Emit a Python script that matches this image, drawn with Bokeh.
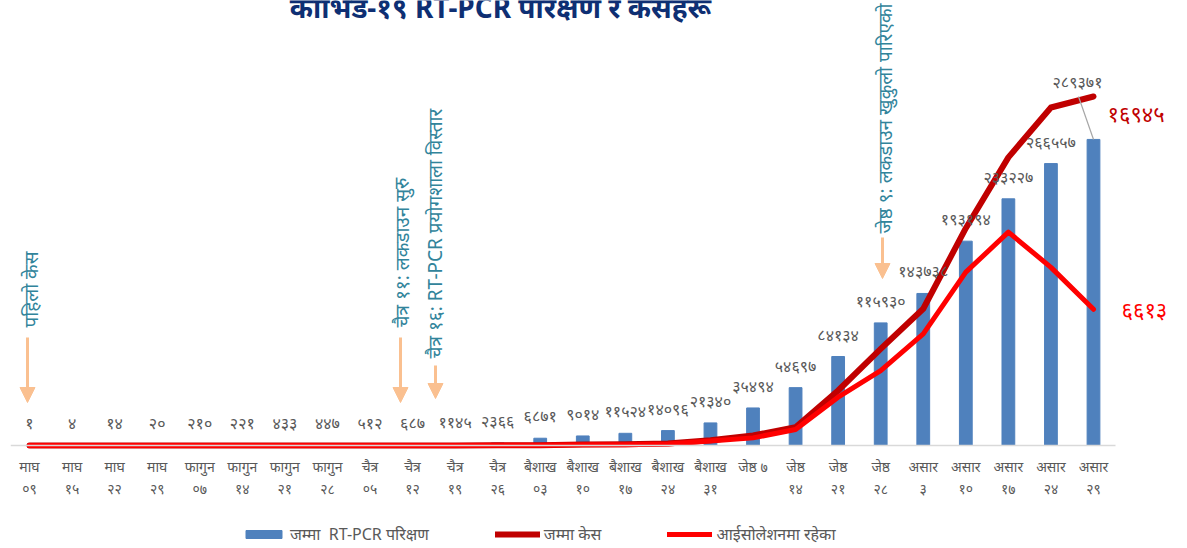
import math
from bokeh.plotting import figure
from bokeh.models import (Range1d, FixedTicker, Legend, LegendItem, Arrow, NormalHead)
from bokeh.core.properties import value
from bokeh.embed import file_html
from bokeh.resources import INLINE

# ---------------- data ----------------
months = ["माघ", "माघ", "माघ", "माघ", "फागुन", "फागुन", "फागुन", "फागुन",
          "चैत्र", "चैत्र", "चैत्र", "चैत्र", "बैशाख", "बैशाख", "बैशाख", "बैशाख",
          "बैशाख", "जेष्ठ ७", "जेष्ठ", "जेष्ठ", "जेष्ठ", "असार", "असार", "असार",
          "असार", "असार"]
days = ["०९", "१५", "२२", "२९", "०७", "१४", "२१", "२८", "०५", "१२", "१९", "२६",
        "०३", "१०", "१७", "२४", "३१", "", "१४", "२१", "२८", "३", "१०", "१७",
        "२४", "२९"]
tests = [1, 4, 14, 20, 210, 221, 433, 447, 512, 687, 1145, 2366, 6871, 9014,
         11524, 14096, 21340, 35494, 54697, 84134, 115930, 143738, 193194,
         233227, 266557, 289371]
cases = [1, 1, 1, 1, 1, 1, 1, 1, 1, 3, 5, 9, 16, 45, 57, 99, 260, 487, 886,
         2670, 4690, 6640, 10550, 13990, 16410, 16945]
isolation = [1, 1, 0, 0, 0, 0, 0, 0, 0, 2, 4, 8, 15, 41, 41, 70, 220, 370, 780,
             2345, 3640, 5420, 8415, 10360, 8650, 6613]
title_text = "कोभिड-१९ RT-PCR परिक्षण र केसहरू"
series_names = ["जम्मा  RT-PCR परिक्षण", "जम्मा केस", "आईसोलेशनमा रहेका"]
event_texts = ["पहिलो केस", "चैत्र ११: लकडाउन सुरु",
               "चैत्र १६: RT-PCR प्रयोगशाला विस्तार",
               "जेष्ठ ९: लकडाउन खुकुलो पारिएको"]

DEV = str.maketrans("0123456789", "०१२३४५६७८९")
def dev(n):
    return str(n).translate(DEV)

# ---------------- layout helpers (page pixels -> data) ----------------
W, H = 1187, 548
CAT0_PX, CAT_STEP = 29.0, 42.56
FRAME_L, BASE = 10.0, 445.0
PX_PER_TEST = 1.0577e-3
PX_PER_CASE = 0.020596
X_START = -(CAT0_PX - FRAME_L) / CAT_STEP
X_END = X_START + (W - FRAME_L) / CAT_STEP
YMAX_T = BASE / PX_PER_TEST
YMIN_T = -(H - BASE) / PX_PER_TEST
YMAX_C = BASE / PX_PER_CASE
YMIN_C = -(H - BASE) / PX_PER_CASE

def tx(px):
    return (px - CAT0_PX) / CAT_STEP

def ty(py):
    return (BASE - py) / PX_PER_TEST

FONT_NAME = "Noto Sans"
FONT = value(FONT_NAME)
GRAY = "#595959"
BLUE = "#4F81BD"
DARKRED = "#C00000"
RED = "#FF0000"
TEAL = "#31849B"
ORANGE = "#FAC090"

idx = list(range(len(tests)))

p = figure(width=W, height=H, x_range=Range1d(X_START, X_END),
           y_range=Range1d(YMIN_T, YMAX_T), y_axis_location=None,
           toolbar_location=None, output_backend="svg",
           min_border_left=int(FRAME_L), min_border_right=0,
           min_border_top=0, min_border_bottom=0,
           outline_line_color=None, background_fill_color="white",
           border_fill_color="white")
p.extra_y_ranges = {"cases": Range1d(YMIN_C, YMAX_C)}
p.xgrid.visible = False
p.ygrid.visible = False

ax = p.xaxis[0]
ax.fixed_location = 0
ax.ticker = FixedTicker(ticks=idx)
ax.major_label_overrides = {i: (m + ("\n" + d if d else "")) for i, (m, d) in enumerate(zip(months, days))}
ax.bounds = (X_START, 25.52)
ax.axis_line_color = "#D9D9D9"
ax.axis_line_width = 1.5
ax.major_tick_line_color = None
ax.minor_tick_line_color = None
ax.major_label_standoff = 5
ax.major_label_text_font = FONT_NAME
ax.major_label_text_font_size = "14px"
ax.major_label_text_color = GRAY
ax.major_label_text_line_height = 1.2

# bars and lines
r_bar = p.vbar(x=idx, top=tests, bottom=0, width=0.3, color=BLUE)
r_cases = p.line(x=idx, y=cases, y_range_name="cases", line_color=DARKRED,
                 line_width=6, line_join="round", line_cap="round")
r_iso = p.line(x=idx, y=isolation, y_range_name="cases", line_color=RED,
               line_width=5, line_join="round", line_cap="round")

# bar value labels
p.text(x=idx[:-1], y=tests[:-1], text=[dev(v) for v in tests[:-1]],
       y_offset=-22, text_align="center", text_baseline="middle",
       text_font=FONT, text_font_size="16px", text_color=GRAY)
p.segment(x0=[idx[-1]], y0=[tests[-1]], x1=[tx(1078)], y1=[ty(96)],
          line_color="#A6A6A6", line_width=1.2)
p.text(x=[idx[-1]], y=[tests[-1]], text=[dev(tests[-1])], x_offset=-16,
       y_offset=-57, text_align="center", text_baseline="middle",
       text_font=FONT, text_font_size="16px", text_color=GRAY)

# end labels for lines
p.text(x=[idx[-1]], y=[cases[-1]], y_range_name="cases", text=[dev(cases[-1])],
       x_offset=14, y_offset=16, text_align="left", text_baseline="middle",
       text_font=FONT, text_font_size="22px", text_color=DARKRED)
p.text(x=[idx[-1]], y=[isolation[-1]], y_range_name="cases",
       text=[dev(isolation[-1])], x_offset=28, y_offset=0, text_align="left",
       text_baseline="middle", text_font=FONT, text_font_size="22px",
       text_color=RED)

# event annotations (vertical text + arrows)
ev_x = [30, 401, 434, 884]
ev_bottom = [327, 327, 358, 233]
p.text(x=[tx(v) for v in ev_x], y=[ty(v) for v in ev_bottom], text=event_texts,
       angle=math.pi / 2, text_align="left", text_baseline="middle",
       text_font=FONT, text_font_size="19px", text_color=TEAL)
arrows = [(27, 337, 402), (400, 337, 402), (435, 365, 398), (882, 237, 278)]
for a_px, y0, y1 in arrows:
    p.add_layout(Arrow(end=NormalHead(size=15, fill_color=ORANGE, line_color=ORANGE),
                       x_start=tx(a_px), y_start=ty(y0), x_end=tx(a_px), y_end=ty(y1),
                       line_color=ORANGE, line_width=3))

# title (cut at top like the reference)
p.text(x=[tx(500)], y=[ty(6)], text=[title_text], text_align="center",
       text_baseline="alphabetic", text_font=FONT, text_font_size="28px",
       text_font_style="bold", text_color="#0E2F73")

legend = Legend(items=[LegendItem(label=series_names[0], renderers=[r_bar]),
                       LegendItem(label=series_names[1], renderers=[r_cases]),
                       LegendItem(label=series_names[2], renderers=[r_iso])],
                location=(231, 3), orientation="horizontal",
                glyph_width=45, glyph_height=10, label_standoff=4, spacing=66,
                padding=0, margin=0, label_height=20, label_text_font=FONT_NAME,
                label_text_font_size="16px", label_text_color=GRAY,
                background_fill_alpha=0, border_line_alpha=0)
p.add_layout(legend)

open("out.html", "w").write(file_html(p, INLINE))
